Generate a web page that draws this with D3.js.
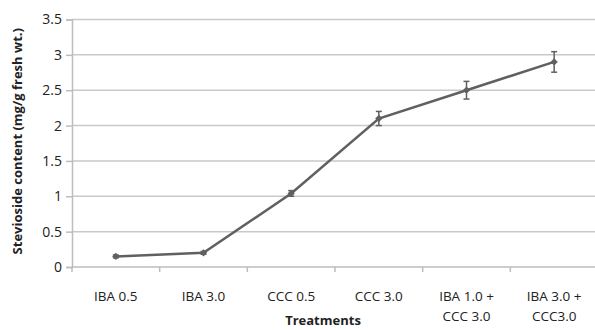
<!DOCTYPE html>
<html>
<head>
<meta charset="utf-8">
<script src="https://cdn.jsdelivr.net/npm/d3@7"></script>
<style>
  html, body { margin: 0; padding: 0; background: #fff; }
  svg { display: block; }
  text { font-family: "Open Sans", sans-serif; fill: #222; }
</style>
</head>
<body>
<svg id="chart" width="595" height="330"></svg>
<script>
// Treatments and stevioside content (mg/g fresh wt.) with standard errors
const categories = [["IBA 0.5"], ["IBA 3.0"], ["CCC 0.5"], ["CCC 3.0"], ["IBA 1.0 +", "CCC 3.0"], ["IBA 3.0 +", "CCC3.0"]];
const values = [0.15, 0.20, 1.04, 2.10, 2.50, 2.90];
const errors = [0.02, 0.02, 0.04, 0.10, 0.125, 0.145];
const yTicks = [0, 0.5, 1, 1.5, 2, 2.5, 3, 3.5];

const svg = d3.select("#chart");
const plotLeft = 72, plotRight = 598, plotTop = 19.5, plotBottom = 267;

const keys = categories.map(c => c.join(" "));
const x = d3.scaleBand().domain(keys).range([plotLeft, plotRight]);
const y = d3.scaleLinear().domain([0, 3.5]).range([plotBottom, plotTop]);

// horizontal gridlines
svg.append("g")
  .selectAll("line")
  .data(yTicks.filter(t => t > 0))
  .join("line")
  .attr("x1", plotLeft).attr("x2", 595)
  .attr("y1", d => y(d)).attr("y2", d => y(d))
  .attr("stroke", "#c9c9c9").attr("stroke-width", 1.5);

// y axis
const yAxis = svg.append("g")
  .attr("transform", `translate(${plotLeft},0)`)
  .call(d3.axisLeft(y).tickValues(yTicks).tickFormat(d3.format("")).tickSize(6).tickPadding(4));
yAxis.select(".domain").attr("stroke", "#bdbdbd").attr("stroke-width", 1.5);
yAxis.selectAll(".tick line").attr("stroke", "#bdbdbd").attr("stroke-width", 1.5);
yAxis.selectAll(".tick text").attr("font-size", 14).attr("fill", "#222")
  .style("font-family", "'Open Sans', sans-serif");

// x axis with ticks at category boundaries
const xAxisG = svg.append("g").attr("transform", `translate(0,${plotBottom})`);
xAxisG.append("line")
  .attr("x1", plotLeft).attr("x2", 595).attr("y1", 0).attr("y2", 0)
  .attr("stroke", "#bdbdbd").attr("stroke-width", 1.5);
const boundaries = keys.map(k => x(k)).concat([x(keys[keys.length - 1]) + x.bandwidth()]);
xAxisG.selectAll("line.tk")
  .data(boundaries)
  .join("line").attr("class", "tk")
  .attr("x1", d => d).attr("x2", d => d)
  .attr("y1", 0).attr("y2", 5)
  .attr("stroke", "#bdbdbd").attr("stroke-width", 1.5);

// category labels (possibly two lines)
const labels = svg.append("g").selectAll("text")
  .data(categories)
  .join("text")
  .attr("x", (d, i) => x(keys[i]) + x.bandwidth() / 2)
  .attr("y", 301)
  .attr("text-anchor", "middle")
  .attr("font-size", 13.5);
labels.selectAll("tspan")
  .data(d => d)
  .join("tspan")
  .attr("x", function () { return this.parentNode.getAttribute("x"); })
  .attr("dy", (d, i) => i === 0 ? 0 : 20)
  .text(d => d);

// axis titles
svg.append("text")
  .attr("x", 323).attr("y", 325)
  .attr("text-anchor", "middle")
  .attr("font-size", 13).attr("font-weight", "bold")
  .text("Treatments");
svg.append("text")
  .attr("transform", `translate(22,${(plotTop + plotBottom) / 2 - 2}) rotate(-90)`)
  .attr("text-anchor", "middle")
  .attr("font-size", 13).attr("font-weight", "bold")
  .text("Stevioside content (mg/g fresh wt.)");

const cx = (d, i) => x(keys[i]) + x.bandwidth() / 2;
const pts = values.map((v, i) => [cx(v, i), y(v)]);
const col = "#606060";

// series line
svg.append("path")
  .attr("d", d3.line()(pts))
  .attr("fill", "none").attr("stroke", col).attr("stroke-width", 2.5);

// error bars
const eb = svg.append("g").attr("stroke", col).attr("stroke-width", 1.5);
values.forEach((v, i) => {
  const xc = cx(v, i), e = errors[i];
  eb.append("line").attr("x1", xc).attr("x2", xc).attr("y1", y(v + e)).attr("y2", y(v - e));
  eb.append("line").attr("x1", xc - 3).attr("x2", xc + 3).attr("y1", y(v + e)).attr("y2", y(v + e));
  eb.append("line").attr("x1", xc - 3).attr("x2", xc + 3).attr("y1", y(v - e)).attr("y2", y(v - e));
});

// diamond markers
svg.append("g").selectAll("path")
  .data(pts)
  .join("path")
  .attr("transform", d => `translate(${d[0]},${d[1]})`)
  .attr("d", d3.symbol(d3.symbolDiamond2, 34))
  .attr("fill", col);
</script>
</body>
</html>
